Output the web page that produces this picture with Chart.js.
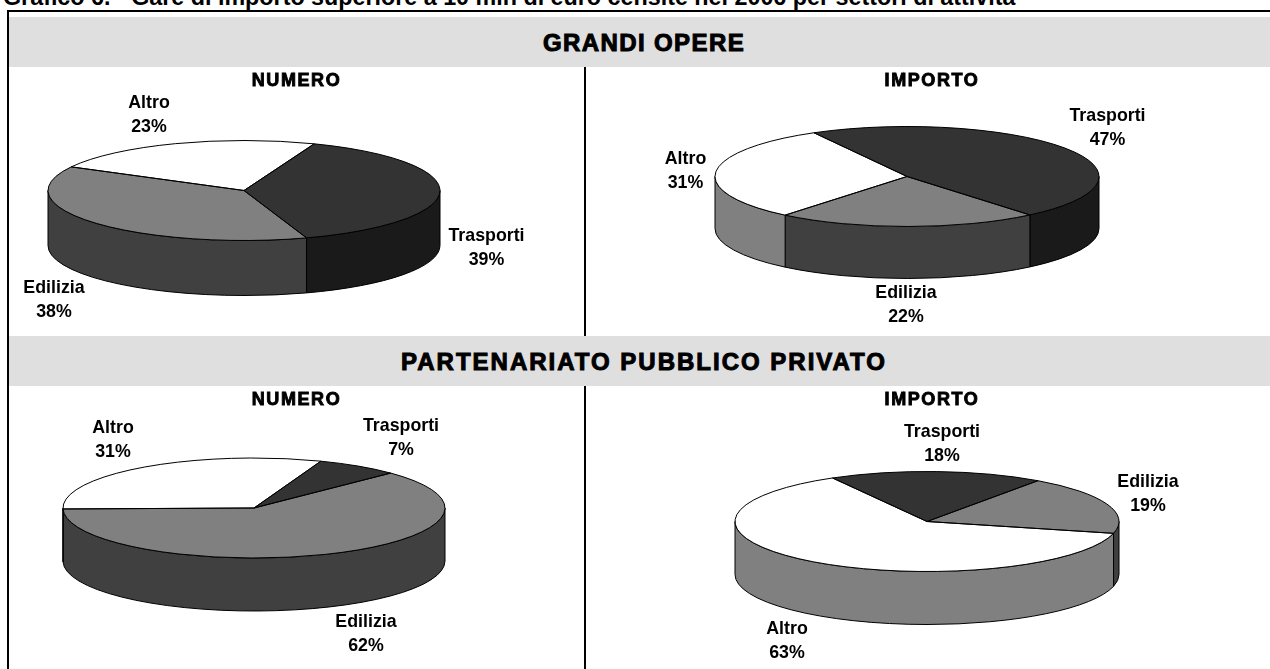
<!DOCTYPE html>
<html lang="it">
<head>
<meta charset="utf-8">
<script src="https://cdn.jsdelivr.net/npm/chart.js@4"></script>
<style>
html,body{margin:0;padding:0;background:#fff;width:1270px;height:669px;overflow:hidden}
body{position:relative;font-family:"Liberation Sans",Arial,sans-serif}
.abs{position:absolute}
#title{left:3px;top:-13px;font-weight:bold;font-size:23.3px;line-height:20px;white-space:nowrap;color:#000}
.band{left:9px;width:1261px;height:50px;background:#dfdfdf;text-align:center;font-weight:bold;font-size:24px;line-height:52px;color:#000;-webkit-text-stroke:1px #000;box-sizing:border-box;padding-left:9px}
.line{background:#000}
canvas{position:absolute;display:block}
</style>
</head>
<body>
<div class="abs" id="title">Grafico 6. - Gare di importo superiore a 10 mln di euro censite nel 2006 per settori di attività</div>
<div class="abs line" style="left:7px;top:10px;width:1263px;height:2px"></div>
<div class="abs line" style="left:7px;top:10px;width:2px;height:659px"></div>
<div class="abs band" style="top:17px;letter-spacing:1.4px">GRANDI OPERE</div>
<div class="abs band" style="top:336px;letter-spacing:2px">PARTENARIATO PUBBLICO PRIVATO</div>
<div class="abs line" style="left:584px;top:67px;width:2px;height:269px"></div>
<div class="abs line" style="left:584px;top:386px;width:2px;height:283px"></div>
<canvas id="c0" width="575" height="268" style="left:9px;top:67px"></canvas>
<canvas id="c1" width="684" height="268" style="left:586px;top:67px"></canvas>
<canvas id="c2" width="575" height="283" style="left:9px;top:386px"></canvas>
<canvas id="c3" width="684" height="283" style="left:586px;top:386px"></canvas>
<script>
const categories = ['Trasporti', 'Edilizia', 'Altro'];
const grandiNumero = [39, 38, 23];
const grandiImporto = [47, 22, 31];
const pppNumero = [7, 62, 31];
const pppImporto = [18, 19, 63];
const topColors = ['#333333', '#808080', '#ffffff'];
const sideColors = ['#1a1a1a', '#404040', '#808080'];

const pies = [
  {id:'c0', heading:'NUMERO', values:grandiNumero, rotation:21, hx:296.5, hy:81.5,
   cx:244, cy:190.5, rx:196, ry:50, depth:55,
   labels:[[486.5,236],[54,288],[149,103]]},
  {id:'c1', heading:'IMPORTO', values:grandiImporto, rotation:-29, hx:932, hy:81.5,
   cx:907, cy:176.5, rx:192, ry:50, depth:52,
   labels:[[1107.5,116],[906,293],[685.5,159]]},
  {id:'c2', heading:'NUMERO', values:pppNumero, rotation:20.5, hx:296.5, hy:400,
   cx:254, cy:508, rx:191, ry:50, depth:53,
   labels:[[401,426],[366,622],[113,428]]},
  {id:'c3', heading:'IMPORTO', values:pppImporto, rotation:-29.5, hx:932, hy:400,
   cx:927, cy:521.5, rx:192, ry:50, depth:53,
   labels:[[942,432],[1148,482],[787,629]]}
];

const TAU = Math.PI * 2;

const pie3d = {
  id: 'pie3d',
  beforeDatasetDraw(chart, args, opts) {
    const ctx = chart.ctx;
    const {rx, ry, depth} = opts;
    const arcs = args.meta.data;
    const x0 = arcs[0].x, y0 = arcs[0].y;
    arcs.forEach((arc, i) => {
      let a = ((arc.startAngle % TAU) + TAU) % TAU;
      let b = a + (arc.endAngle - arc.startAngle);
      [[0, Math.PI], [TAU, TAU + Math.PI]].forEach(([lo, hi]) => {
        const s = Math.max(a, lo), e = Math.min(b, hi);
        if (e <= s) return;
        ctx.beginPath();
        ctx.ellipse(x0, y0, rx, ry, 0, s, e, false);
        ctx.ellipse(x0, y0 + depth, rx, ry, 0, e, s, true);
        ctx.closePath();
        ctx.fillStyle = sideColors[i];
        ctx.fill();
        ctx.lineWidth = 1;
        ctx.strokeStyle = '#000';
        ctx.stroke();
      });
    });
    ctx.save();
    ctx.translate(x0, y0);
    ctx.scale(1, ry / rx);
    ctx.translate(-x0, -y0);
  },
  afterDatasetDraw(chart, args, opts) {
    const ctx = chart.ctx;
    const {rx, ry} = opts;
    ctx.restore();
    const arcs = args.meta.data;
    const x0 = arcs[0].x, y0 = arcs[0].y;
    arcs.forEach(arc => {
      ctx.beginPath();
      ctx.moveTo(x0, y0);
      ctx.ellipse(x0, y0, rx, ry, 0, arc.startAngle, arc.endAngle, false);
      ctx.closePath();
      ctx.lineWidth = 1;
      ctx.strokeStyle = '#000';
      ctx.stroke();
    });
  },
  afterDraw(chart, args, opts) {
    const ctx = chart.ctx;
    const ox = chart.canvas.offsetLeft, oy = chart.canvas.offsetTop;
    ctx.save();
    ctx.textAlign = 'center';
    ctx.textBaseline = 'middle';
    ctx.fillStyle = '#000';
    ctx.font = 'bold 17.8px "Liberation Sans", Arial, sans-serif';
    categories.forEach((name, i) => {
      const [lx, ly] = opts.labels[i];
      ctx.fillText(name, lx - ox, ly - oy);
      ctx.fillText(chart.data.datasets[0].data[i] + '%', lx - ox, ly - oy + 24);
    });
    ctx.font = 'bold 18px "Liberation Sans", Arial, sans-serif';
    ctx.letterSpacing = '1.6px';
    ctx.lineWidth = 0.9;
    ctx.strokeStyle = '#000';
    ctx.fillText(opts.heading, opts.hx - ox, opts.hy - oy);
    ctx.strokeText(opts.heading, opts.hx - ox, opts.hy - oy);
    ctx.restore();
  }
};

pies.forEach(p => {
  const canvas = document.getElementById(p.id);
  const W = canvas.width, H = canvas.height;
  const cxLocal = p.cx - canvas.offsetLeft, cyLocal = p.cy - canvas.offsetTop;
  const padX = W - 2 * cxLocal, padY = H - 2 * cyLocal;
  new Chart(canvas, {
    type: 'pie',
    plugins: [pie3d],
    data: {
      labels: categories,
      datasets: [{
        data: p.values,
        backgroundColor: topColors,
        borderWidth: 0,
        radius: p.rx,
        clip: false
      }]
    },
    options: {
      responsive: false,
      animation: false,
      rotation: p.rotation,
      events: [],
      layout: {padding: {
        left: padX < 0 ? -padX : 0, right: padX > 0 ? padX : 0,
        top: padY < 0 ? -padY : 0, bottom: padY > 0 ? padY : 0
      }},
      plugins: {
        legend: {display: false},
        title: {display: false},
        tooltip: {enabled: false},
        pie3d: {rx: p.rx, ry: p.ry, depth: p.depth, labels: p.labels, heading: p.heading, hx: p.hx, hy: p.hy}
      }
    }
  });
});
</script>
</body>
</html>
